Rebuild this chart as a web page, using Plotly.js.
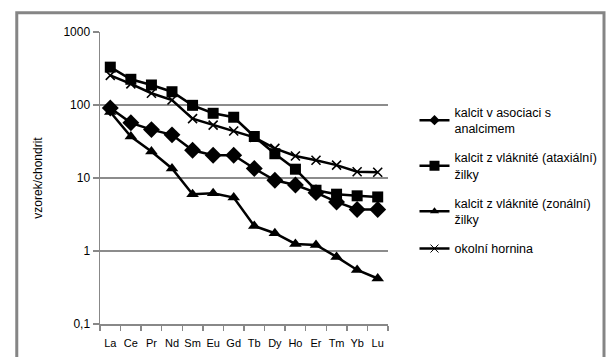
<!DOCTYPE html>
<html>
<head>
<meta charset="utf-8">
<script src="https://cdn.plot.ly/plotly-3.0.1.min.js"></script>
<style>
html,body{margin:0;padding:0;background:#fff;}
#chart{width:614px;height:357px;}
</style>
</head>
<body>
<div id="chart"></div>
<script>
var categories = ["La","Ce","Pr","Nd","Sm","Eu","Gd","Tb","Dy","Ho","Er","Tm","Yb","Lu"];
var seriesNames = ["kalcit v asociaci s<br>analcimem","kalcit z vláknité (ataxiální)<br>žilky","kalcit z vláknité (zonální)<br>žilky","okolní hornina"];
var analcim = [91, 57, 46, 39, 24, 20.5, 20.5, 13.5, 9.3, 8.0, 6.3, 4.7, 3.7, 3.7];
var ataxialni = [330, 225, 188, 152, 99, 77, 68, 37, 21.5, 13.2, 6.8, 6.0, 5.7, 5.5];
var zonalni = [80, 37, 23, 13.5, 6.0, 6.2, 5.4, 2.2, 1.75, 1.25, 1.21, 0.83, 0.55, 0.42];
var hornina = [255, 195, 145, 117, 65, 53, 44, 36, 25.5, 20, 17.5, 15, 12.2, 12];
var yTickVals = [0.1, 1, 10, 100, 1000];
var yTickText = ["0,1", "1", "10", "100", "1000"];
var yTitle = "vzorek/chondrit";

var symbols = ["diamond", "square", "triangle-up", "x-thin"];
var plotSizes = [13, 11, 11, 9];
var legendSizes = [8, 10, 8, 8];
var seriesValues = [analcim, ataxialni, zonalni, hornina];

var data = [];
for (var i = 0; i < 4; i++) {
  var isX = symbols[i] === "x-thin";
  data.push({
    x: categories, y: seriesValues[i], name: seriesNames[i], type: "scatter", mode: "lines+markers",
    showlegend: false, legendgroup: "g" + i,
    line: {color: "#000000", width: 2.5},
    marker: {symbol: symbols[i], size: plotSizes[i], color: "#000000",
             line: isX ? {width: 1.6, color: "#000000"} : {width: 0}}
  });
}
// legend-only entries (no points) with smaller legend symbols
for (var j = 0; j < 4; j++) {
  var isX2 = symbols[j] === "x-thin";
  data.push({
    x: [null], y: [null], name: seriesNames[j], type: "scatter", mode: "lines+markers",
    showlegend: true, legendgroup: "g" + j,
    line: {color: "#000000", width: 2.5},
    marker: {symbol: symbols[j], size: legendSizes[j], color: "#000000",
             line: isX2 ? {width: 1, color: "#000000"} : {width: 0}}
  });
}

var layout = {
  width: 614, height: 357,
  margin: {l: 100, r: 217, t: 32, b: 33},
  paper_bgcolor: "#ffffff", plot_bgcolor: "#ffffff",
  font: {family: "Liberation Sans, Arial, sans-serif", size: 12, color: "#000000"},
  showlegend: true,
  legend: {x: 1.092, xanchor: "left", y: 0.776, yanchor: "top",
           font: {size: 12.5, color: "#000000"}, tracegroupgap: 10,
           itemwidth: 30, bgcolor: "rgba(0,0,0,0)"},
  xaxis: {
    type: "category", tickson: "boundaries", ticks: "outside", ticklen: 5,
    tickcolor: "#888888", tickwidth: 1.5, tickangle: 0, ticklabelstandoff: 8,
    showline: true, linecolor: "#888888", linewidth: 1.5,
    showgrid: false, zeroline: false,
    tickfont: {family: "Liberation Sans, Arial, sans-serif", size: 11},
    range: [-0.5, 13.5], fixedrange: true
  },
  yaxis: {
    type: "log", range: [-1, 3],
    tickvals: yTickVals, ticktext: yTickText,
    ticks: "outside", ticklen: 6, tickcolor: "#888888", tickwidth: 1.5,
    showline: true, linecolor: "#888888", linewidth: 1.5,
    showgrid: true, gridcolor: "#8c8c8c", gridwidth: 1.5,
    zeroline: false,
    tickfont: {size: 12},
    title: {text: yTitle, font: {size: 12}, standoff: 18},
    fixedrange: true
  },
  shapes: [{
    type: "rect", xref: "paper", yref: "paper",
    x0: -0.289, x1: 1.75, y0: -0.2, y1: 1.066,
    line: {color: "#858585", width: 3}, fillcolor: "rgba(0,0,0,0)", layer: "below"
  }]
};
Plotly.newPlot("chart", data, layout, {staticPlot: true, displayModeBar: false});
</script>
</body>
</html>
